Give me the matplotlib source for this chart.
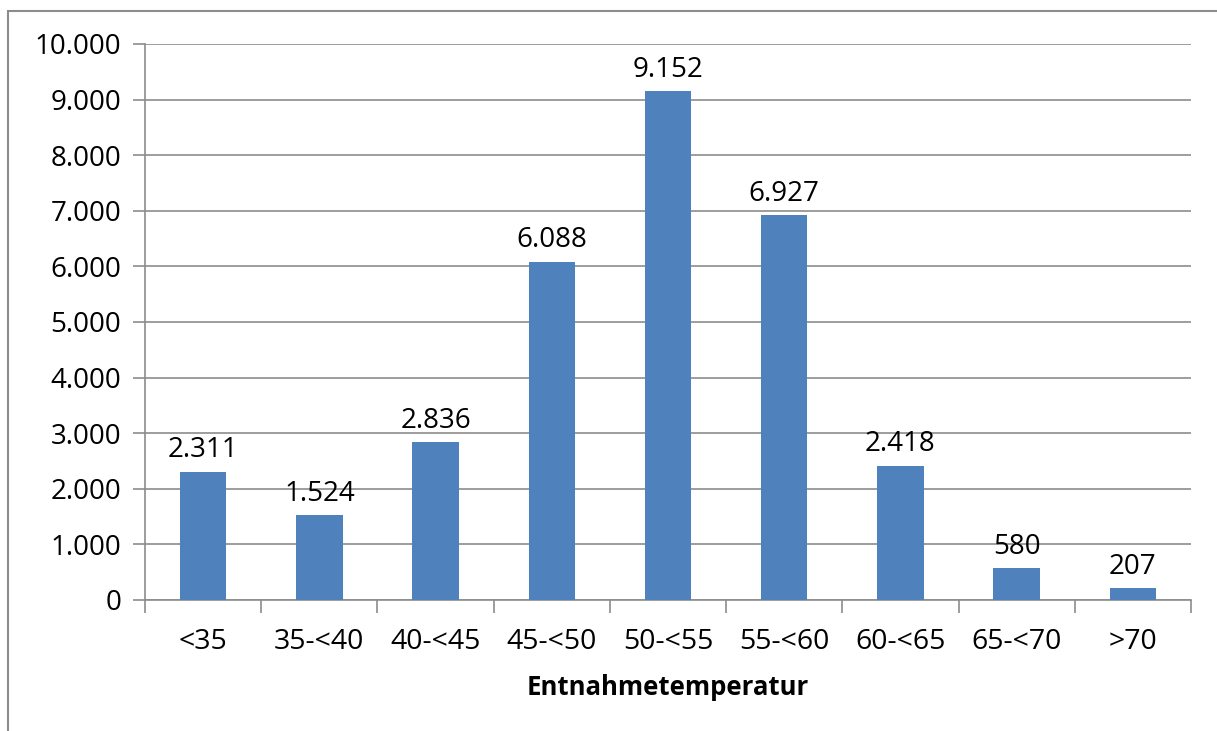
import matplotlib.pyplot as plt
from matplotlib.ticker import FuncFormatter
from matplotlib.patches import Rectangle

# Kategorien und Werte
kategorien = ["<35", "35-<40", "40-<45", "45-<50", "50-<55", "55-<60", "60-<65", "65-<70", ">70"]
werte = [2311, 1524, 2836, 6088, 9152, 6927, 2418, 580, 207]

plt.rcParams['font.family'] = ['Open Sans', 'DejaVu Sans']

fig = plt.figure(figsize=(12.17, 7.31), dpi=100)
ax = fig.add_axes([145 / 1217, 1 - 600 / 731, (1191 - 145) / 1217, (600 - 44) / 731])

# Rahmen um das Diagramm (rechts und unten abgeschnitten)
fig.add_artist(Rectangle((8 / 1217, -0.05), 1.2, 1 - 11 / 731 + 0.05, transform=fig.transFigure,
                         fill=False, edgecolor='#8c8c8c', linewidth=1.5))

x = range(len(kategorien))
ax.bar(x, werte, width=0.4, color='#4F81BD', zorder=3)

def fmt(v):
    return f"{int(v):,}".replace(",", ".")

for xi, v in zip(x, werte):
    ax.text(xi, v + 130, fmt(v), ha='center', va='bottom', fontsize=20)

ax.set_xlim(-0.5, len(kategorien) - 0.5)
ax.set_ylim(0, 10000)
ax.set_yticks(range(0, 10001, 1000))
ax.yaxis.set_major_formatter(FuncFormatter(lambda v, p: fmt(v)))
ax.grid(axis='y', color='#8c8c8c', linewidth=1.2, zorder=0)

ax.set_xticks(list(x))
ax.set_xticklabels(kategorien)
ax.set_xticks([i - 0.5 for i in range(len(kategorien) + 1)], minor=True)
ax.tick_params(axis='x', which='major', length=0, pad=20, labelsize=20.5)
ax.tick_params(axis='x', which='minor', length=9, color='#8c8c8c', width=1.2)
ax.tick_params(axis='y', length=9, color='#8c8c8c', width=1.2, labelsize=20, pad=8)

for s in ['top', 'right']:
    ax.spines[s].set_visible(False)
for s in ['left', 'bottom']:
    ax.spines[s].set_color('#8c8c8c')
    ax.spines[s].set_linewidth(1.2)

ax.set_xlabel("Entnahmetemperatur", fontsize=18.5, fontweight='bold', labelpad=13)

fig.savefig("out.png", dpi=100)
